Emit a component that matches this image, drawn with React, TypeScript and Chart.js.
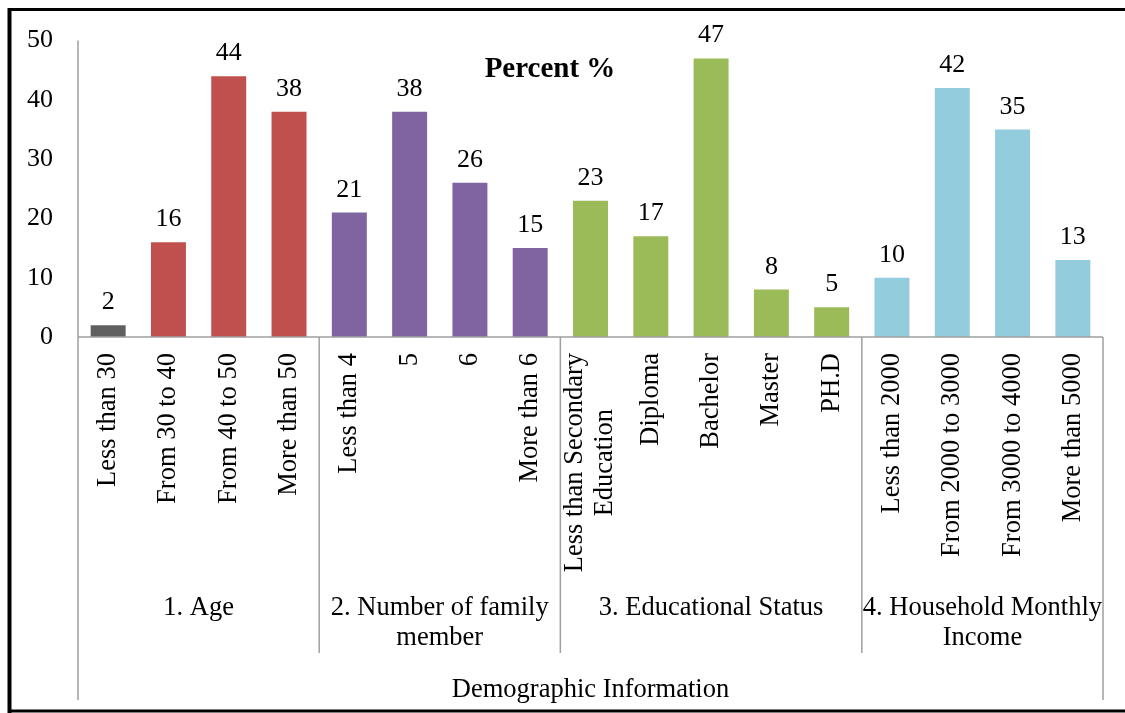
import React, { useEffect, useRef } from "react";
import { Chart, registerables } from "chart.js";

Chart.register(...registerables);

// ---- data ----
const categories: string[][] = [
  ["Less than 30"], ["From 30 to 40"], ["From 40 to 50"], ["More than 50"],
  ["Less than 4"], ["5"], ["6"], ["More than 6"],
  ["Less than Secondary", "Education"], ["Diploma"], ["Bachelor"], ["Master"], ["PH.D"],
  ["Less than 2000"], ["From 2000 to 3000"], ["From 3000 to 4000"], ["More than 5000"],
];
const values: number[] = [2, 16, 44, 38, 21, 38, 26, 15, 23, 17, 47, 8, 5, 10, 42, 35, 13];
const groupNames: string[][] = [
  ["1. Age"],
  ["2. Number of family", "member"],
  ["3. Educational Status"],
  ["4. Household Monthly", "Income"],
];
const groupSizes: number[] = [4, 4, 5, 4];
const outerLabel = "Demographic Information";
const chartTitle = "Percent %";
const yTicks: number[] = [0, 10, 20, 30, 40, 50];

// ---- style ----
const groupColors = ["#C0504D", "#8064A2", "#9BBB59", "#93CDDD"];
const firstBarColor = "#606060";
const FONT = "'Liberation Serif', 'Times New Roman', serif";
const AXIS_GRAY = "#A0A0A0";

function barColors(): string[] {
  const out: string[] = [];
  groupSizes.forEach((n, g) => {
    for (let i = 0; i < n; i++) out.push(groupColors[g]);
  });
  out[0] = firstBarColor;
  return out;
}

const overlayPlugin = {
  id: "overlay",
  afterDraw(chart: any) {
    const { ctx, chartArea } = chart;
    const xs = chart.scales.x;
    const W = chart.width;
    const H = chart.height;
    const left = chartArea.left;
    const right = chartArea.right;
    const top = chartArea.top;
    const bottom = chartArea.bottom;
    const px = (i: number) => xs.getPixelForValue(i);
    const boundary = (i: number) => {
      if (i <= 0) return left;
      if (i >= values.length) return right;
      return (px(i - 1) + px(i)) / 2;
    };

    ctx.save();
    // axis lines
    ctx.strokeStyle = AXIS_GRAY;
    ctx.lineWidth = 1.5;
    ctx.beginPath();
    ctx.moveTo(left, top);
    ctx.lineTo(left, 700);
    ctx.moveTo(left, bottom);
    ctx.lineTo(right, bottom);
    ctx.moveTo(right, bottom);
    ctx.lineTo(right, 700);
    // group separators
    let acc = 0;
    for (let g = 0; g < groupSizes.length - 1; g++) {
      acc += groupSizes[g];
      const bx = boundary(acc);
      ctx.moveTo(bx, bottom);
      ctx.lineTo(bx, 653);
    }
    ctx.stroke();

    // data labels
    ctx.fillStyle = "#000";
    ctx.font = `26px ${FONT}`;
    ctx.textAlign = "center";
    ctx.textBaseline = "alphabetic";
    const meta = chart.getDatasetMeta(0);
    meta.data.forEach((bar: any, i: number) => {
      ctx.fillText(String(values[i]), bar.x, bar.y - 16);
    });

    // rotated category labels
    ctx.font = `26.5px ${FONT}`;
    categories.forEach((lines, i) => {
      const x = px(i);
      const widths = lines.map((l) => ctx.measureText(l).width);
      const maxW = Math.max(...widths);
      const lh = 30;
      const yTop = bottom + 16;
      lines.forEach((l, k) => {
        const off = (k - (lines.length - 1) / 2) * lh;
        ctx.save();
        ctx.translate(x + off, yTop + maxW / 2);
        ctx.rotate(-Math.PI / 2);
        ctx.textAlign = "center";
        ctx.textBaseline = "middle";
        ctx.fillText(l, 0, 0);
        ctx.restore();
      });
    });

    // group labels
    ctx.textAlign = "center";
    ctx.textBaseline = "alphabetic";
    acc = 0;
    groupNames.forEach((lines, g) => {
      const cx = (boundary(acc) + boundary(acc + groupSizes[g])) / 2;
      lines.forEach((l, k) => ctx.fillText(l, cx, 615 + k * 30));
      acc += groupSizes[g];
    });
    ctx.fillText(outerLabel, (left + right) / 2, 697);

    // title
    ctx.font = `bold 29px ${FONT}`;
    ctx.textBaseline = "middle";
    ctx.fillText(chartTitle, left + 472, 70);

    // frame
    ctx.strokeStyle = "#000";
    ctx.lineWidth = 4;
    ctx.beginPath();
    ctx.moveTo(9.5, 8);
    ctx.lineTo(9.5, H);
    ctx.stroke();
    ctx.lineWidth = 3;
    ctx.beginPath();
    ctx.moveTo(8, 9.5);
    ctx.lineTo(W, 9.5);
    ctx.moveTo(8, 711);
    ctx.lineTo(W, 711);
    ctx.stroke();
    ctx.restore();
  },
};

export default function App() {
  const ref = useRef<HTMLCanvasElement>(null);
  useEffect(() => {
    if (!ref.current) return;
    const chart = new Chart(ref.current, {
      type: "bar",
      data: {
        labels: categories.map((c) => c.join(" ")),
        datasets: [
          {
            data: values,
            backgroundColor: barColors(),
            borderWidth: 0,
            barPercentage: 0.58,
            categoryPercentage: 1,
          },
        ],
      },
      options: {
        responsive: false,
        animation: false,
        events: [],
        layout: { padding: { left: 0, top: 38, right: 22, bottom: 0 } },
        plugins: {
          legend: { display: false },
          tooltip: { enabled: false },
          title: { display: false },
        },
        scales: {
          x: {
            grid: { display: false, drawTicks: false },
            border: { display: false },
            ticks: { display: false },
            afterFit: (s: any) => {
              s.height = 376;
            },
          },
          y: {
            min: 0,
            max: 50,
            grid: { display: false, drawTicks: false },
            border: { display: false },
            afterBuildTicks: (s: any) => {
              s.ticks = yTicks.map((v) => ({ value: v }));
            },
            ticks: {
              color: "#000",
              padding: 25,
              font: { family: FONT, size: 26 },
            },
            afterFit: (s: any) => {
              s.width = 78;
            },
          },
        },
      },
      plugins: [overlayPlugin],
    });
    return () => chart.destroy();
  }, []);
  return (
    <div style={{ position: "absolute", left: 0, top: 0, width: 1125, height: 713, background: "#fff" }}>
      <canvas ref={ref} width={1125} height={713} />
    </div>
  );
}
